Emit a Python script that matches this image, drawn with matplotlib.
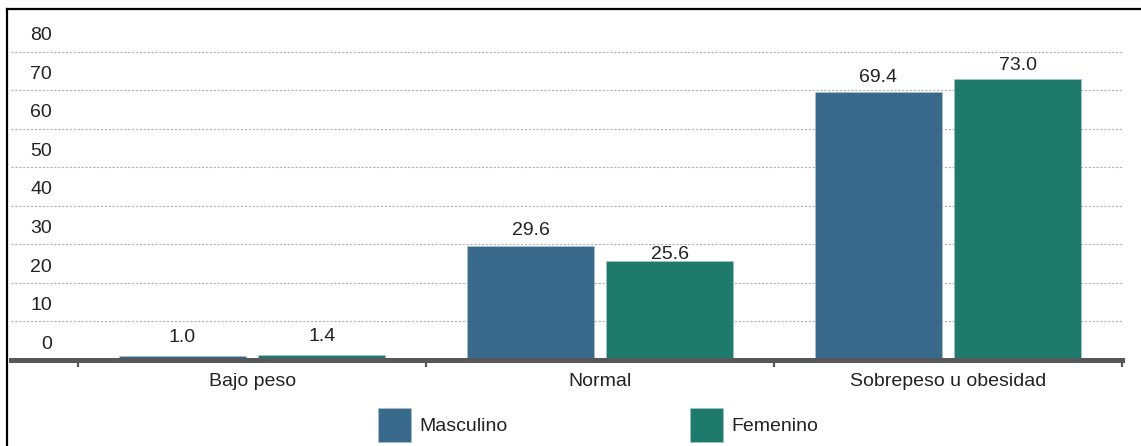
import numpy as np
import matplotlib.pyplot as plt
from matplotlib.patches import Patch
from matplotlib.lines import Line2D
from matplotlib.transforms import offset_copy

# --------------------------------------------------
# Data
# --------------------------------------------------
categories = ["Bajo peso", "Normal", "Sobrepeso u obesidad"]
masculino = [1.0, 29.6, 69.4]
femenino = [1.4, 25.6, 73.0]
series_names = ["Masculino", "Femenino"]
y_ticks = [0, 10, 20, 30, 40, 50, 60, 70, 80]

# label offsets in points (the 25.6 label sits on its bar in the original)
label_offsets = {"Masculino": [7, 5, 5], "Femenino": [7, -1.5, 3.5]}

colors = ["#3a6a8b", "#1e7b6c"]
text_color = "#222222"
axis_color = "#58585a"
fs = 14

plt.rcParams["font.family"] = ["Liberation Sans", "DejaVu Sans"]

# --------------------------------------------------
# Figure
# --------------------------------------------------
fig = plt.figure(figsize=(11.41, 4.46), dpi=100)
W, H = 1141, 446
ax = fig.add_axes([11 / W, (H - 360) / H, (1122 - 11) / W, 340 / H])

x = np.arange(len(categories))
width = 0.365
offset = 0.2

for vals, name, col, sign in zip([masculino, femenino], series_names, colors, [-1, 1]):
    bars = ax.bar(x + sign * offset, vals, width, color=col,
                  edgecolor="#a9c4cf", linewidth=0.4, zorder=3, label=name)
    for b, v, dy in zip(bars, vals, label_offsets[name]):
        ax.annotate(f"{v:.1f}", (b.get_x() + b.get_width() / 2, v),
                    xytext=(0, dy), textcoords="offset points",
                    ha="center", va="bottom", fontsize=fs, color=text_color,
                    zorder=4)

ax.set_xlim(-0.693, 2.5)
ax.set_ylim(0, 88.2)

# gridlines
for t in y_ticks[1:]:
    ax.axhline(t, color="#b0b0b0", linewidth=0.8, linestyle=(0, (2, 1.5)),
               zorder=1)

# y labels sit above their gridlines
lab_trans = offset_copy(ax.get_yaxis_transform(), fig=fig, x=0, y=11.4,
                        units="points")
for t in y_ticks:
    ax.text(41 / (1122 - 11), t, str(t), transform=lab_trans, ha="right",
            va="center", fontsize=fs, color=text_color)
ax.set_yticks([])

# x axis
ax.set_xticks([-0.5, 0.5, 1.5, 2.5])
ax.set_xticklabels([])
ax.set_xticks(x, minor=True)
ax.set_xticklabels(categories, minor=True, fontsize=fs, color=text_color)
ax.tick_params(axis="x", which="major", length=5, width=1.6, color=axis_color)
ax.tick_params(axis="x", which="minor", length=0, pad=9)

for s in ["top", "right", "left"]:
    ax.spines[s].set_visible(False)
ax.spines["bottom"].set_color(axis_color)
ax.spines["bottom"].set_linewidth(3.6)
ax.spines["bottom"].set_zorder(5)

# legend
handles = [Patch(facecolor=c, edgecolor="#a9c4cf", linewidth=0.4) for c in colors]
fig.legend(handles, series_names, loc="center",
           bbox_to_anchor=(598 / W, 1 - 425 / H), ncol=2, frameon=False,
           fontsize=fs, handlelength=1.7, handleheight=2.24,
           handletextpad=0.45, columnspacing=9.35, labelcolor=text_color)

# outer frame (top and left edges only, the rest is cut off)
top = 1 - 9 / H
left = 7 / W
fig.add_artist(Line2D([left, 1.0], [top, top], transform=fig.transFigure,
                      color="black", linewidth=1.6))
fig.add_artist(Line2D([left, left], [0.0, top], transform=fig.transFigure,
                      color="black", linewidth=1.6))

fig.savefig("out.png", dpi=100)
